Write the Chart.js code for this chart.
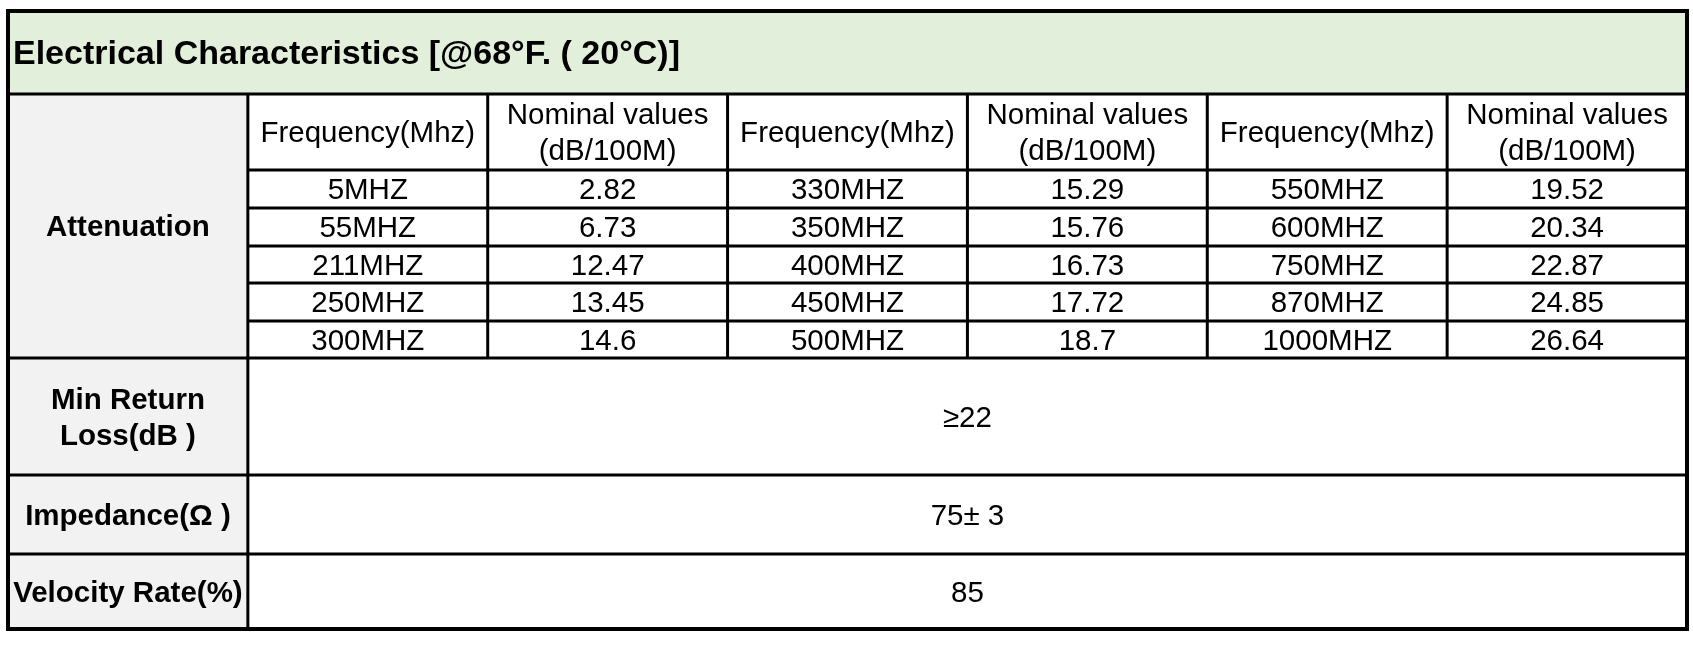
<!DOCTYPE html>
<html>
<head>
<meta charset="utf-8">
<title>Electrical Characteristics</title>
<script src="https://cdn.jsdelivr.net/npm/chart.js@4.4.1/dist/chart.umd.min.js"></script>
<style>
  html, body { margin: 0; padding: 0; background: #ffffff; }
  canvas { display: block; }
</style>
</head>
<body>
<canvas id="myChart" width="1693" height="646"></canvas>
<script>
// table data
var titleText = 'Electrical Characteristics [@68°F. ( 20°C)]';
var rowLabels = ['Attenuation', 'Min Return\nLoss(dB )', 'Impedance(Ω )', 'Velocity Rate(%)'];
var freqHeader = 'Frequency(Mhz)';
var valueHeader = 'Nominal values\n(dB/100M)';

var freqLow = [5, 55, 211, 250, 300];
var lossLow = [2.82, 6.73, 12.47, 13.45, 14.6];
var freqMid = [330, 350, 400, 450, 500];
var lossMid = [15.29, 15.76, 16.73, 17.72, 18.7];
var freqHigh = [550, 600, 750, 870, 1000];
var lossHigh = [19.52, 20.34, 22.87, 24.85, 26.64];

var returnLoss = '≥22';
var impedance = '75± 3';
var velocity = '85';

// layout (row heights in scale units, 7 equal columns)
var rowHeights = [83, 76, 38, 38, 37, 38, 37, 117, 79, 75];
var rowEdges = [0];
rowHeights.forEach(function(h) { rowEdges.push(rowEdges[rowEdges.length - 1] + h); });
var nCols = 7;

function rowMid(a, b) { return (rowEdges[a] + rowEdges[b]) / 2; }

// every text cell becomes a point, placed through the scales
var cells = [];
cells.push({ x: 0, y: rowMid(0, 1), text: titleText, kind: 'title' });
cells.push({ x: 0.5, y: rowMid(1, 7), text: rowLabels[0], kind: 'label' });
cells.push({ x: 0.5, y: rowMid(7, 8), text: rowLabels[1], kind: 'label' });
cells.push({ x: 0.5, y: rowMid(8, 9), text: rowLabels[2], kind: 'label' });
cells.push({ x: 0.5, y: rowMid(9, 10), text: rowLabels[3], kind: 'label' });

var groups = [[freqLow, lossLow], [freqMid, lossMid], [freqHigh, lossHigh]];
groups.forEach(function(g, gi) {
  var fc = 1 + gi * 2;
  cells.push({ x: fc + 0.5, y: rowMid(1, 2), text: freqHeader, kind: 'body' });
  cells.push({ x: fc + 1.5, y: rowMid(1, 2), text: valueHeader, kind: 'body' });
  g[0].forEach(function(f, i) {
    cells.push({ x: fc + 0.5, y: rowMid(2 + i, 3 + i), text: f + 'MHZ', kind: 'body' });
    cells.push({ x: fc + 1.5, y: rowMid(2 + i, 3 + i), text: String(g[1][i]), kind: 'body' });
  });
});

cells.push({ x: (1 + nCols) / 2, y: rowMid(7, 8), text: returnLoss, kind: 'body' });
cells.push({ x: (1 + nCols) / 2, y: rowMid(8, 9), text: impedance, kind: 'body' });
cells.push({ x: (1 + nCols) / 2, y: rowMid(9, 10), text: velocity, kind: 'body' });

var fonts = {
  title: 'bold 34px "Liberation Sans", Arial, sans-serif',
  label: 'bold 29.5px "Liberation Sans", Arial, sans-serif',
  body: '29.5px "Liberation Sans", Arial, sans-serif'
};

var tablePlugin = {
  id: 'tablePlugin',
  beforeDatasetsDraw: function(chart) {
    var ctx = chart.ctx;
    var xs = chart.scales.x, ys = chart.scales.y;
    function X(v) { return xs.getPixelForValue(v); }
    function Y(v) { return ys.getPixelForValue(v); }

    ctx.save();
    // fills
    ctx.fillStyle = '#E2EFDA';
    ctx.fillRect(X(0), Y(rowEdges[0]), X(nCols) - X(0), Y(rowEdges[1]) - Y(rowEdges[0]));
    ctx.fillStyle = '#F2F2F2';
    ctx.fillRect(X(0), Y(rowEdges[1]), X(1) - X(0), Y(rowEdges[10]) - Y(rowEdges[1]));

    // grid
    ctx.strokeStyle = '#000000';
    ctx.lineWidth = 3;
    function line(x0, y0, x1, y1) {
      ctx.beginPath();
      ctx.moveTo(X(x0), Y(y0));
      ctx.lineTo(X(x1), Y(y1));
      ctx.stroke();
    }
    [1, 7, 8, 9].forEach(function(r) { line(0, rowEdges[r], nCols, rowEdges[r]); });
    [2, 3, 4, 5, 6].forEach(function(r) { line(1, rowEdges[r], nCols, rowEdges[r]); });
    line(1, rowEdges[1], 1, rowEdges[10]);
    for (var c = 2; c < nCols; c++) line(c, rowEdges[1], c, rowEdges[7]);

    ctx.lineWidth = 4;
    ctx.strokeRect(X(0), Y(rowEdges[0]), X(nCols) - X(0), Y(rowEdges[10]) - Y(rowEdges[0]));
    ctx.restore();
  },
  afterDatasetsDraw: function(chart) {
    var ctx = chart.ctx;
    var meta = chart.getDatasetMeta(0);
    var raw = chart.data.datasets[0].data;
    ctx.save();
    ctx.fillStyle = '#000000';
    ctx.textBaseline = 'middle';
    meta.data.forEach(function(el, i) {
      var cell = raw[i];
      ctx.font = fonts[cell.kind];
      var lines = cell.text.split('\n');
      var lh = 36;
      var x = el.x;
      if (cell.kind === 'title') {
        ctx.textAlign = 'left';
        x += 5;
      } else {
        ctx.textAlign = 'center';
      }
      lines.forEach(function(t, k) {
        var y = el.y + (k - (lines.length - 1) / 2) * lh;
        ctx.fillText(t, x, y + 2);
      });
    });
    ctx.restore();
  }
};

var ctx = document.getElementById('myChart').getContext('2d');
var myChart = new Chart(ctx, {
  type: 'scatter',
  data: {
    datasets: [{
      label: 'cells',
      data: cells,
      pointRadius: 0,
      pointHoverRadius: 0
    }]
  },
  options: {
    responsive: false,
    animation: false,
    devicePixelRatio: 1,
    events: [],
    layout: { padding: { left: 8, top: 11, right: 6, bottom: 17 } },
    plugins: { legend: { display: false }, tooltip: { enabled: false } },
    scales: {
      x: { type: 'linear', min: 0, max: nCols, display: false },
      y: { type: 'linear', min: 0, max: rowEdges[rowEdges.length - 1], reverse: true, display: false }
    }
  },
  plugins: [tablePlugin]
});
</script>
</body>
</html>
